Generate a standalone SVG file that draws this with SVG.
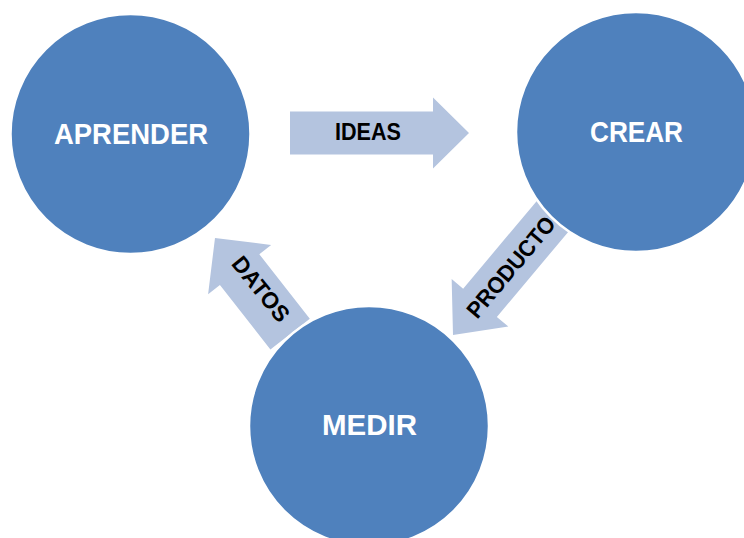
<svg xmlns="http://www.w3.org/2000/svg" width="744" height="538" viewBox="0 0 744 538">
  <style>
    .arrow { fill: #b4c4df; }
    .node { fill: #4f81bd; stroke: #ffffff; stroke-width: 2.5; }
    .node-label { font-family: "Liberation Sans", Arial, sans-serif; font-weight: bold; font-size: 30px; fill: #ffffff; text-anchor: middle; }
    .edge-label { font-family: "Liberation Sans", Arial, sans-serif; font-weight: bold; font-size: 23px; fill: #000000; text-anchor: middle; }
  </style>
  <rect width="744" height="538" fill="#ffffff"/>

  <!-- block arrows between the stages -->
  <g id="connectors">
    <g id="edge-ideas">
      <polygon class="arrow" transform="translate(469,133)" points="-179,-21.5 -36,-21.5 -36,-35.5 0,0 -36,35.5 -36,21.5 -179,21.5"/>
      <text class="edge-label" x="368" y="140" textLength="66" lengthAdjust="spacingAndGlyphs">IDEAS</text>
    </g>
    <g id="edge-producto">
      <polygon class="arrow" transform="translate(453,335) rotate(130)" points="-170,-22 -42,-22 -42,-37 0,0 -42,37 -42,22 -170,22"/>
      <text class="edge-label" transform="translate(511,267) rotate(-50)" x="0" y="8" textLength="124" lengthAdjust="spacingAndGlyphs">PRODUCTO</text>
    </g>
    <g id="edge-datos">
      <polygon class="arrow" transform="translate(215,238) rotate(-128)" points="-122,-25 -40,-25 -40,-40 0,0 -40,40 -40,25 -122,25"/>
      <text class="edge-label" transform="translate(261,289) rotate(51)" x="0" y="8" textLength="77" lengthAdjust="spacingAndGlyphs">DATOS</text>
    </g>
  </g>

  <!-- stage circles -->
  <g id="node-aprender">
    <circle class="node" cx="130.5" cy="134" r="120"/>
    <text class="node-label" x="131" y="144" textLength="154" lengthAdjust="spacingAndGlyphs">APRENDER</text>
  </g>
  <g id="node-crear">
    <circle class="node" cx="636" cy="132" r="120"/>
    <text class="node-label" x="636.5" y="142" textLength="93" lengthAdjust="spacingAndGlyphs">CREAR</text>
  </g>
  <g id="node-medir">
    <circle class="node" cx="369" cy="426" r="120"/>
    <text class="node-label" x="369.5" y="435" textLength="95" lengthAdjust="spacingAndGlyphs">MEDIR</text>
  </g>
</svg>
